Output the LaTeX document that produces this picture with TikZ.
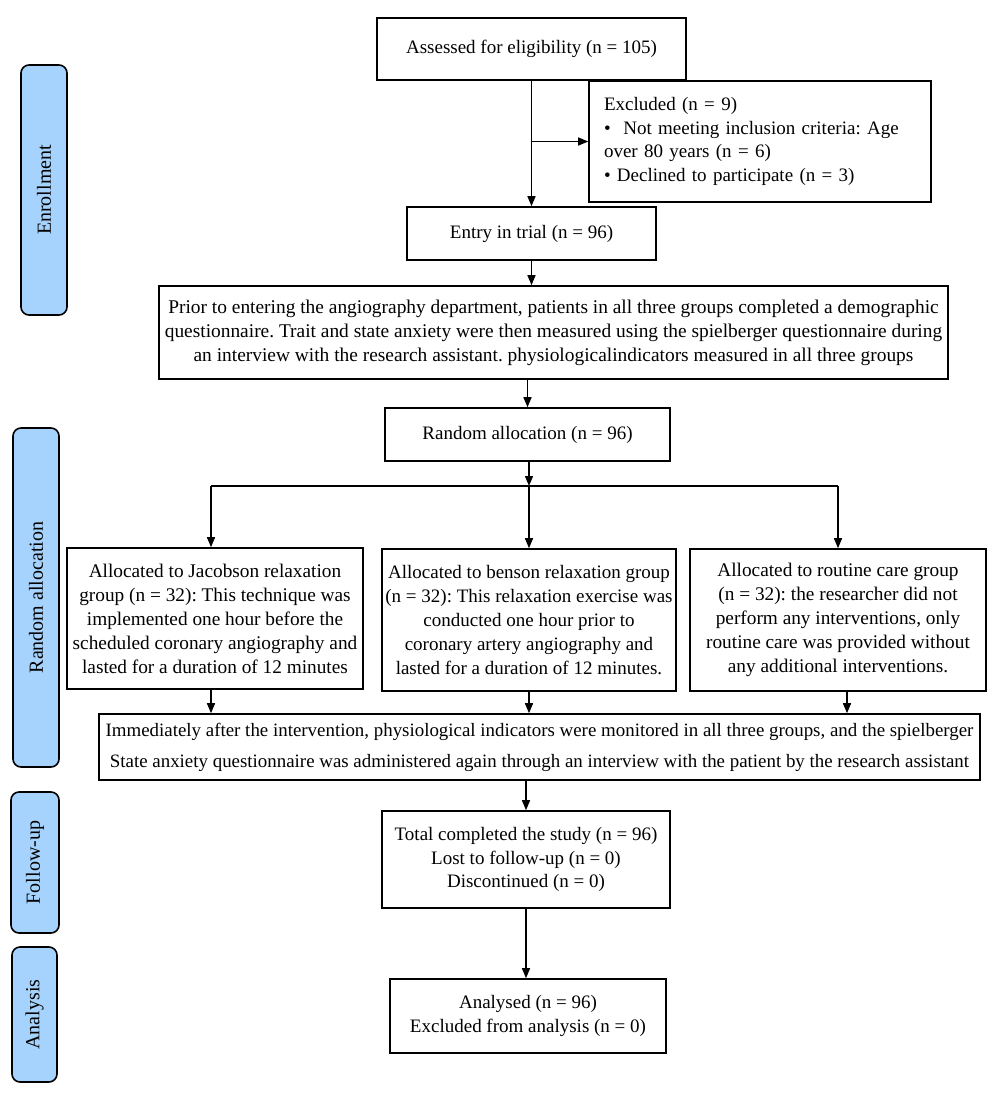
\documentclass[tikz,border=0pt]{standalone}
\usepackage{fontspec}
\setmainfont{Liberation Serif}
\usetikzlibrary{arrows.meta}
\definecolor{sideblue}{RGB}{166,211,253}
\frenchspacing
\begin{document}
\begin{tikzpicture}[x=1pt,y=-1pt,
  box/.style={draw, line width=1.6pt, inner sep=0pt, align=center,
    font=\fontsize{19}{23.5}\selectfont},
  side/.style={draw, line width=1.6pt, fill=sideblue, rounded corners=8pt,
    inner sep=0pt, rotate=90, font=\fontsize{20}{22}\selectfont},
  arr/.style={line width=1.4pt, -{Triangle[length=10pt,width=8pt]}},
  ln/.style={line width=1.4pt}]
\useasboundingbox (0,0) rectangle (1000,1096);

% side labels
\node[side, minimum width=250pt, minimum height=46pt] (s1) at (44,190) {Enrollment};
\node[side, minimum width=339pt, minimum height=46pt] (s2) at (36,597.5) {Random allocation};
\node[side, minimum width=141pt, minimum height=48pt] (s3) at (35,862.5) {Follow-up};
\node[side, minimum width=135pt, minimum height=45pt] (s4) at (34.5,1014.5) {Analysis};

% boxes
\node[box, minimum width=309pt, minimum height=62pt] (assess) at (531.5,49) {Assessed for eligibility (n = 105)};
\node[box, minimum width=342pt, minimum height=121pt, align=left, text width=312pt] (excl) at (760,141.5)
  {Excluded (n = 9)\\
   \makebox[295pt][s]{\textbullet\ \ Not meeting inclusion criteria: Age}\\
   over 80 years (n = 6)\\
   \textbullet\ Declined to participate (n = 3)};
\node[box, minimum width=249pt, minimum height=53pt] (entry) at (531.5,233.5) {Entry in trial (n = 96)};
\node[box, minimum width=789pt, minimum height=93pt, font=\fontsize{19.4}{24}\selectfont] (prior) at (553.5,332.5)
  {Prior to entering the angiography department, patients in all three groups completed a demographic\\
   questionnaire. Trait and state anxiety were then measured using the spielberger questionnaire during\\
   an interview with the research assistant. physiologicalindicators measured in all three groups};
\node[box, minimum width=285pt, minimum height=53pt] (rand) at (527.5,434.5) {Random allocation (n = 96)};

\node[box, minimum width=296pt, minimum height=141pt, font=\fontsize{19.3}{24}\selectfont] (jac) at (215,618.5)
  {Allocated to Jacobson relaxation\\ group (n = 32): This technique was\\ implemented one hour before the\\ scheduled coronary angiography and\\ lasted for a duration of 12 minutes};
\node[box, minimum width=294pt, minimum height=142pt, font=\fontsize{19}{24}\selectfont] (ben) at (529,620)
  {Allocated to benson relaxation group\\ (n = 32): This relaxation exercise was\\ conducted one hour prior to\\ coronary artery angiography and\\ lasted for a duration of 12 minutes.};
\node[box, minimum width=296pt, minimum height=142pt, font=\fontsize{19.3}{24}\selectfont] (rout) at (838,620)
  {Allocated to routine care group\\ (n = 32): the researcher did not\\ perform any interventions, only\\ routine care was provided without\\ any additional interventions.};

\node[box, minimum width=881pt, minimum height=66pt, font=\fontsize{18.9}{31}\selectfont] (imm) at (539.5,747)
  {Immediately after the intervention, physiological indicators were monitored in all three groups, and the spielberger\\
   State anxiety questionnaire was administered again through an interview with the patient by the research assistant};

\node[box, minimum width=288pt, minimum height=97pt] (total) at (526,859.5)
  {Total completed the study (n = 96)\\ Lost to follow-up (n = 0)\\ Discontinued (n = 0)};
\node[box, minimum width=276pt, minimum height=74pt] (anal) at (528,1016)
  {Analysed (n = 96)\\ Excluded from analysis (n = 0)};

% connectors
\coordinate (br) at (531.5,141.5);
\draw[arr] (assess.south) -- (assess.south |- entry.north);
\draw[arr] (br) -- (excl.west);
\draw[arr] (entry.south) -- (entry.south |- prior.north);
\draw[arr] (prior.south -| rand.north) -- (rand.north);

\coordinate (split) at (529,486);
\coordinate (jt) at (211,486);
\coordinate (rt) at (838,486);
\draw[arr] (rand.south -| split) -- (split);
\draw[ln] (jt) -- (rt);
\draw[arr] (jt) -- (jt |- jac.north);
\draw[arr] (split) -- (split |- ben.north);
\draw[arr] (rt) -- (rt |- rout.north);

\draw[arr] (jt |- jac.south) -- (jt |- imm.north);
\draw[arr] (ben.south) -- (ben.south |- imm.north);
\coordinate (rb) at (847,691);
\draw[arr] (rb) -- (rb |- imm.north);

\draw[arr] (imm.south -| total.north) -- (total.north);
\draw[arr] (total.south) -- (total.south |- anal.north);
\end{tikzpicture}
\end{document}
